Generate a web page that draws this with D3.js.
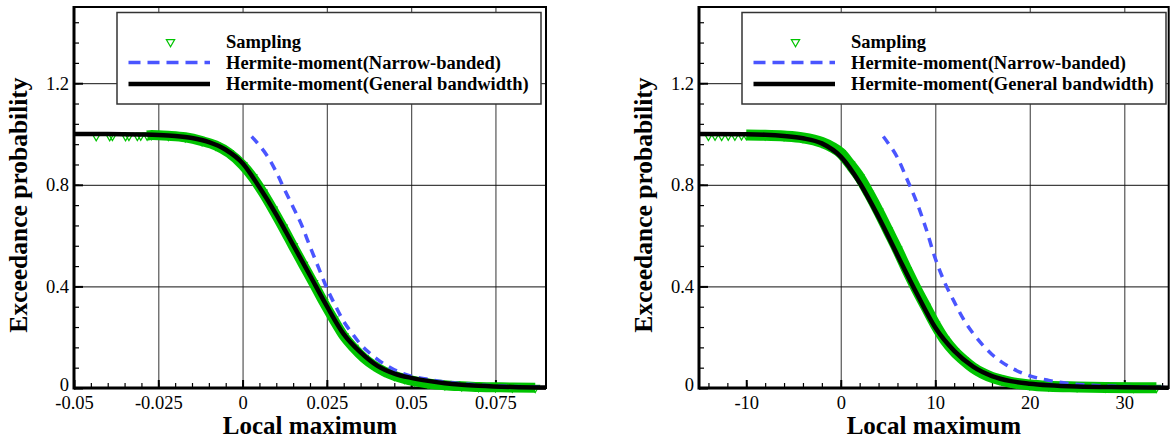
<!DOCTYPE html>
<html>
<head>
<meta charset="utf-8">
<script src="https://cdn.jsdelivr.net/npm/d3@7"></script>
<style>
body { margin: 0; background: #fff; }
svg text { font-family: "Liberation Serif", "Times New Roman", serif; }
</style>
</head>
<body>
<svg id="chart" width="1170" height="441"></svg>
<script>
// ---- left panel data ----
var generalLx = [-0.05, -0.04, -0.03, -0.025, -0.02, -0.015, -0.01, -0.005, 0, 0.005, 0.01, 0.015, 0.02, 0.025, 0.03, 0.035, 0.04, 0.045, 0.05, 0.055, 0.06, 0.065, 0.07, 0.08, 0.09];
var generalLy = [1.0, 1.0, 0.998, 0.996, 0.992, 0.984, 0.968, 0.938, 0.885, 0.79, 0.683, 0.563, 0.443, 0.322, 0.212, 0.14, 0.087, 0.057, 0.04, 0.028, 0.019, 0.013, 0.009, 0.004, 0.002];
var narrowLx = [0.0027, 0.005, 0.0075, 0.01, 0.0125, 0.015, 0.0175, 0.02, 0.0225, 0.025, 0.0275, 0.03, 0.0325, 0.035, 0.0375, 0.04, 0.045, 0.05, 0.055, 0.06, 0.065, 0.07, 0.08, 0.09];
var narrowLy = [0.99, 0.955, 0.91, 0.85, 0.78, 0.712, 0.642, 0.557, 0.475, 0.393, 0.325, 0.262, 0.215, 0.172, 0.14, 0.113, 0.072, 0.047, 0.034, 0.024, 0.017, 0.012, 0.006, 0.003];
var samplingLx = [-0.0434, -0.0394, -0.0386, -0.0347, -0.0337, -0.0312, -0.0302, -0.0283, -0.027, -0.022, -0.017, -0.012, -0.008, -0.004, 0, 0.003, 0.006, 0.009, 0.012, 0.015, 0.018, 0.021, 0.024, 0.027, 0.03, 0.033, 0.036, 0.039, 0.042, 0.045, 0.048, 0.051, 0.055, 0.06, 0.065, 0.07, 0.075, 0.08, 0.0868];
var samplingLy = [0.992, 0.992, 0.993, 0.992, 0.993, 0.993, 0.994, 0.994, 0.996, 0.993, 0.987, 0.972, 0.955, 0.925, 0.878, 0.83, 0.77, 0.703, 0.632, 0.558, 0.485, 0.413, 0.339, 0.27, 0.205, 0.158, 0.118, 0.088, 0.065, 0.048, 0.036, 0.027, 0.018, 0.011, 0.007, 0.004, 0.003, 0.002, 0.001];
var ticksLx = [-0.05, -0.025, 0, 0.025, 0.05, 0.075];

// ---- right panel data ----
var generalRx = [-15, -10, -8, -6, -4, -2, 0, 2, 4, 6, 8, 10, 12, 14, 16, 18, 20, 22, 25, 30, 34.7];
var generalRy = [1.0, 0.999, 0.997, 0.992, 0.983, 0.963, 0.911, 0.808, 0.673, 0.523, 0.375, 0.238, 0.146, 0.084, 0.047, 0.027, 0.017, 0.011, 0.006, 0.003, 0.001];
var narrowRx = [4.5, 5, 6, 7, 8, 9, 10, 11, 12, 13, 14, 15, 16, 17, 18, 20, 22, 24, 27, 30, 34.7];
var narrowRy = [0.99, 0.965, 0.907, 0.823, 0.735, 0.63, 0.51, 0.415, 0.34, 0.27, 0.215, 0.17, 0.132, 0.103, 0.08, 0.048, 0.03, 0.018, 0.01, 0.006, 0.002];
var samplingRx = [-14.0, -13.3, -12.6, -11.9, -11.2, -10.5, -10, -8, -6, -4, -2, -1, 0, 1, 2, 3, 4, 5, 6, 7, 8, 9, 10, 11, 12, 13, 14, 15, 16, 17, 18, 20, 22, 25, 28, 31, 33.4];
var samplingRy = [0.993, 0.994, 0.993, 0.994, 0.994, 0.995, 0.996, 0.995, 0.992, 0.985, 0.967, 0.95, 0.925, 0.88, 0.83, 0.765, 0.695, 0.62, 0.545, 0.465, 0.39, 0.32, 0.25, 0.19, 0.145, 0.11, 0.08, 0.058, 0.042, 0.031, 0.022, 0.012, 0.007, 0.004, 0.002, 0.001, 0.001];
var ticksRx = [-10, 0, 10, 20, 30];

var ticksY = [0, 0.4, 0.8, 1.2];
var legendLabels = ['Sampling', 'Hermite-moment(Narrow-banded)', 'Hermite-moment(General bandwidth)'];

var GREEN = '#00c400', BLUE = '#4a55ff', FONT = '"Liberation Serif", "Times New Roman", serif';
var TOP = 7, BOTTOM = 388;

var svg = d3.select('#chart');

function zip(xs, ys) {
	return xs.map(function(d, i) { return [d, ys[i]]; });
}

function fmt(d) { return d === 0 ? '0' : String(d); }

function drawPanel(p) {
	var x = d3.scaleLinear().domain(p.xDomain).range([p.left, p.right]);
	var y = d3.scaleLinear().domain([0, 1.5]).range([BOTTOM, TOP]);
	var w = p.right - p.left, h = BOTTOM - TOP;
	var g = svg.append('g');

	// grid lines
	var gx = g.append('g').attr('transform', 'translate(0,' + BOTTOM + ')')
		.call(d3.axisBottom(x).tickValues(p.xTicks.slice(1)).tickSize(-h).tickFormat(''));
	gx.select('.domain').remove();
	gx.selectAll('line').attr('stroke', '#555').attr('stroke-width', 1.2);
	var gy = g.append('g').attr('transform', 'translate(' + p.left + ',0)')
		.call(d3.axisLeft(y).tickValues(ticksY.slice(1)).tickSize(-w).tickFormat(''));
	gy.select('.domain').remove();
	gy.selectAll('line').attr('stroke', '#111').attr('stroke-width', 1);

	// minor ticks
	var mx = g.append('g').attr('transform', 'translate(0,' + BOTTOM + ')')
		.call(d3.axisBottom(x).tickValues(p.xMinor).tickSize(-5).tickFormat(''));
	mx.select('.domain').remove();
	mx.selectAll('line').attr('stroke', '#000').attr('stroke-width', 1.2);
	var my = g.append('g').attr('transform', 'translate(' + p.left + ',0)')
		.call(d3.axisLeft(y).tickValues(d3.range(0.08, 1.5, 0.08)).tickSize(-5).tickFormat(''));
	my.select('.domain').remove();
	my.selectAll('line').attr('stroke', '#000').attr('stroke-width', 1.2);

	// major ticks with labels
	var ax = g.append('g').attr('transform', 'translate(0,' + BOTTOM + ')')
		.call(d3.axisBottom(x).tickValues(p.xTicks).tickSize(-8).tickPadding(8).tickFormat(fmt));
	ax.select('.domain').remove();
	ax.selectAll('line').attr('stroke', '#000').attr('stroke-width', 2);
	ax.attr('font-size', 18.5).attr('font-family', FONT);
	ax.selectAll('text').attr('fill', '#000');
	var ay = g.append('g').attr('transform', 'translate(' + p.left + ',0)')
		.call(d3.axisLeft(y).tickValues(ticksY).tickSize(-9).tickPadding(5).tickFormat(fmt));
	ay.select('.domain').remove();
	ay.selectAll('line').attr('stroke', '#000').attr('stroke-width', 2);
	ay.attr('font-size', 18.5).attr('font-family', FONT);
	ay.selectAll('text').attr('fill', '#000');
	// lift the "0" label a little so it clears the first x label
	ay.selectAll('text').filter(function(d) { return d === 0; }).attr('dy', '0.12em');

	// frame
	g.append('rect').attr('x', p.left).attr('y', TOP).attr('width', w).attr('height', h)
		.attr('fill', 'none').attr('stroke', '#000').attr('stroke-width', 2);
	g.append('line').attr('x1', p.left).attr('x2', p.left).attr('y1', TOP - 1).attr('y2', BOTTOM + 1.5)
		.attr('stroke', '#000').attr('stroke-width', 3);
	g.append('line').attr('x1', p.left).attr('x2', p.right).attr('y1', BOTTOM).attr('y2', BOTTOM)
		.attr('stroke', '#000').attr('stroke-width', 3);

	var line = d3.line()
		.x(function(d) { return x(d[0]); })
		.y(function(d) { return y(d[1]); })
		.curve(d3.curveMonotoneX);

	// sampling: dense markers merge into a band
	var samp = zip(p.sx, p.sy);
	g.append('path').attr('d', line(samp.slice(p.bandStart)))
		.attr('fill', 'none').attr('stroke', GREEN).attr('stroke-width', p.band)
		.attr('stroke-linejoin', 'round');
	var tri = d3.symbol().type(d3.symbolTriangle).size(30);
	g.selectAll('.samp').data(samp).enter().append('path')
		.attr('d', tri)
		.attr('transform', function(d) { return 'translate(' + x(d[0]) + ',' + y(d[1]) + ') rotate(180)'; })
		.attr('fill', 'none').attr('stroke', GREEN).attr('stroke-width', 1.2);

	g.append('path').attr('d', line(zip(p.nx, p.ny)))
		.attr('fill', 'none').attr('stroke', BLUE).attr('stroke-width', 3.5)
		.attr('stroke-dasharray', '9,7');
	g.append('path').attr('d', line(zip(p.gx, p.gy)))
		.attr('fill', 'none').attr('stroke', '#000').attr('stroke-width', 4.5);

	// axis titles
	svg.append('text').attr('x', (p.left + p.right) / 2).attr('y', 434)
		.attr('text-anchor', 'middle').attr('font-size', 25).attr('font-weight', 'bold')
		.text('Local maximum');
	svg.append('text').attr('transform', 'translate(' + (p.left - 47) + ',205) rotate(-90)')
		.attr('text-anchor', 'middle').attr('font-size', 25.5).attr('font-weight', 'bold')
		.text('Exceedance probability');

	// legend
	var lx = p.left + 43, ly = 12.5;
	var lg = svg.append('g').attr('transform', 'translate(' + lx + ',' + ly + ')');
	lg.append('rect').attr('width', 424).attr('height', 91.5)
		.attr('fill', '#fff').attr('stroke', '#333').attr('stroke-width', 1.5);
	var rows = [29.5, 50, 71.5];
	lg.append('path').attr('d', tri)
		.attr('transform', 'translate(53.5,' + rows[0] + ') rotate(180)')
		.attr('fill', 'none').attr('stroke', GREEN).attr('stroke-width', 1.2);
	lg.append('line').attr('x1', 11.5).attr('x2', 93).attr('y1', rows[1]).attr('y2', rows[1])
		.attr('stroke', BLUE).attr('stroke-width', 3.5).attr('stroke-dasharray', '12,7');
	lg.append('line').attr('x1', 11.5).attr('x2', 93).attr('y1', rows[2]).attr('y2', rows[2])
		.attr('stroke', '#000').attr('stroke-width', 4.5);
	lg.selectAll('.lab').data(legendLabels).enter().append('text')
		.attr('x', 109).attr('y', function(d, i) { return rows[i] + 6; })
		.attr('font-size', 18.5).attr('font-weight', 'bold')
		.text(function(d) { return d; });
}

drawPanel({
	left: 74, right: 546, xDomain: [-0.05, 0.09],
	xTicks: ticksLx, xMinor: d3.range(-0.045, 0.09, 0.005),
	gx: generalLx, gy: generalLy, nx: narrowLx, ny: narrowLy,
	sx: samplingLx, sy: samplingLy, bandStart: 7, band: 10
});
drawPanel({
	left: 699, right: 1168.7, xDomain: [-15, 34.7],
	xTicks: ticksRx, xMinor: d3.range(-14, 35, 2),
	gx: generalRx, gy: generalRy, nx: narrowRx, ny: narrowRy,
	sx: samplingRx, sy: samplingRy, bandStart: 6, band: 11
});
</script>
</body>
</html>
